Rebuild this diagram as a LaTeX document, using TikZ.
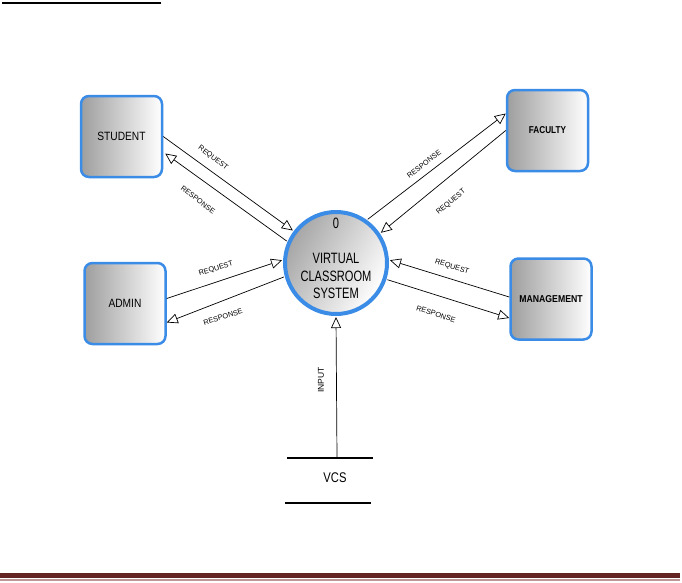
\documentclass[tikz,border=0pt]{standalone}
\usepackage{fontspec}
\setmainfont{Liberation Sans}
\usetikzlibrary{arrows.meta,calc}
\definecolor{edgeblue}{RGB}{59,140,230}
\definecolor{bandred}{RGB}{99,36,35}
\definecolor{bandpink}{RGB}{190,150,150}
\newcommand{\cnd}[2][0.85]{\scalebox{#1}[1]{#2}}
\begin{document}
\begin{tikzpicture}[x=1pt,y=-1pt,
  entity/.style={draw=edgeblue, line width=2.5pt, rounded corners=8pt,
    left color=black!38, right color=white,
    minimum width=81pt, minimum height=81pt, inner sep=0pt,
    font=\fontsize{12}{14}\selectfont},
  boldentity/.style={entity, font=\fontsize{10}{12}\selectfont\bfseries},
  proc/.style={circle, draw=edgeblue, line width=4pt, minimum size=102pt,
    inner sep=0pt, outer sep=3pt, left color=black!35, right color=white,
    shading angle=60},
  proctext/.style={inner sep=0pt, align=center, font=\fontsize{15}{17.5}\selectfont},
  flow/.style={line width=0.7pt,
    -{Triangle[fill=white, length=11pt, width=10pt, line width=0.7pt]}},
  flowlbl/.style={inner sep=0pt, font=\fontsize{7.3}{9}\selectfont},
  storeline/.style={line width=2pt}
]
\useasboundingbox (0,0) rectangle (682,582);

% header rule and footer band
\draw[line width=2pt] (2,2.5) -- (161,2.5);
\fill[bandred] (0,573) rectangle (680,578);
\fill[bandpink] (0,579) rectangle (680,581);

% entities
\node[entity] (student) at (121.5,136.5) {\cnd{STUDENT}};
\node[boldentity] (faculty) at (547.5,130.5) {\cnd[0.82]{FACULTY}};
\node[entity] (admin) at (125,303.5) {\cnd{ADMIN}};
\node[boldentity] (mgmt) at (551,299) {\cnd[0.87]{MANAGEMENT}};

% process
\node[proc] (vcs) at (336,263) {};
\node[proctext] (zero) at (336,223) {\cnd[0.74]{0}};
\node[proctext] (vcsname) at (336,276) {\cnd[0.74]{VIRTUAL}\\\cnd[0.74]{CLASSROOM}\\\cnd[0.74]{SYSTEM}};

% data store
\node[minimum width=86pt, minimum height=45pt, inner sep=0pt, outer sep=0pt] (store) at (330,480.5) {};
\node[inner sep=0pt, font=\fontsize{14}{16}\selectfont] (storetext) at (335,478) {\cnd[0.8]{VCS}};
\draw[storeline] (store.north west) -- (store.north east);
\draw[storeline] ($(store.south west)+(-2,0)$) -- ($(store.south east)+(-2,0)$);

% flows
\draw[flow] (student.east) -- (vcs.143);
\draw[flow] (vcs.156) -- ($(student.east)+(2,17)$);
\draw[flow] (vcs.54) -- ($(faculty.west)+(0,-17)$);
\draw[flow] (faculty.west) -- (vcs.34);
\draw[flow] ($(admin.east)+(0,-5)$) -- (vcs.177);
\draw[flow] (vcs.195) -- ($(admin.east)+(0,19)$);
\draw[flow] ($(mgmt.west)+(0,-2)$) -- (vcs.3);
\draw[flow] (vcs.-18) -- ($(mgmt.west)+(0,19)$);
\draw[flow] ($(store.north)+(7,0)$) -- (vcs.-90);

% flow labels
\node[flowlbl, rotate=-37] (l1) at (213,158) {REQUEST};
\node[flowlbl, rotate=-37] (l2) at (198,200) {RESPONSE};
\node[flowlbl, rotate=37] (l3) at (424,164) {RESPONSE};
\node[flowlbl, rotate=40] (l4) at (451,202) {REQUEST};
\node[flowlbl, rotate=17] (l5) at (216,269) {REQUEST};
\node[flowlbl, rotate=17] (l6) at (223,317) {RESPONSE};
\node[flowlbl, rotate=-18] (l7) at (452,267) {REQUEST};
\node[flowlbl, rotate=-18] (l8) at (436,314) {RESPONSE};
\node[flowlbl, rotate=90, font=\fontsize{8.5}{10}\selectfont] (l9) at (321,380) {INPUT};
\end{tikzpicture}
\end{document}
